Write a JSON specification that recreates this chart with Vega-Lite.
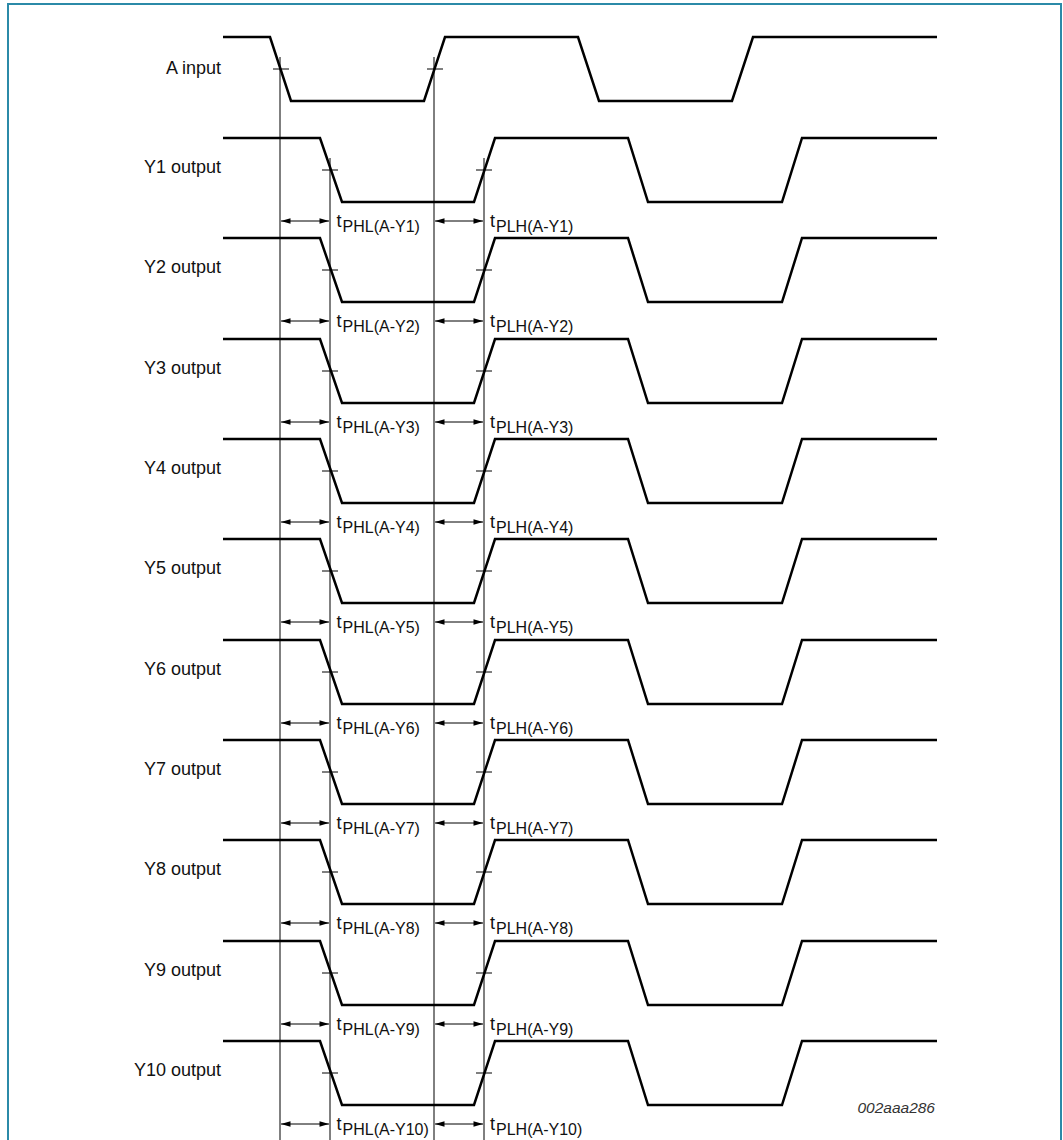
{
  "$schema": "https://vega.github.io/schema/vega-lite/v6.json",
  "width": 1063,
  "height": 1140,
  "padding": 0,
  "autosize": "none",
  "background": "white",
  "config": {"view": {"stroke": null}},
  "datasets": {
    "frame": [{"x": 8, "x2": 1061, "y": 4, "y2": 1150}],
    "guides": [
      {"x": 280, "y": 57, "y2": 1140},
      {"x": 434, "y": 57, "y2": 1140},
      {"x": 330, "y": 158, "y2": 1140},
      {"x": 484, "y": 158, "y2": 1140}
    ],
    "cross": [
      {"x": 273, "x2": 289, "y": 69}, {"x": 427, "x2": 443, "y": 69},
      {"x": 322, "x2": 338, "y": 170}, {"x": 476, "x2": 492, "y": 170},
      {"x": 322, "x2": 338, "y": 270}, {"x": 476, "x2": 492, "y": 270},
      {"x": 322, "x2": 338, "y": 371}, {"x": 476, "x2": 492, "y": 371},
      {"x": 322, "x2": 338, "y": 471}, {"x": 476, "x2": 492, "y": 471},
      {"x": 322, "x2": 338, "y": 571}, {"x": 476, "x2": 492, "y": 571},
      {"x": 322, "x2": 338, "y": 672}, {"x": 476, "x2": 492, "y": 672},
      {"x": 322, "x2": 338, "y": 772}, {"x": 476, "x2": 492, "y": 772},
      {"x": 322, "x2": 338, "y": 872}, {"x": 476, "x2": 492, "y": 872},
      {"x": 322, "x2": 338, "y": 973}, {"x": 476, "x2": 492, "y": 973},
      {"x": 322, "x2": 338, "y": 1073}, {"x": 476, "x2": 492, "y": 1073}
    ],
    "arrows": [
      {"x": 281, "x2": 329, "y": 221}, {"x": 435, "x2": 483, "y": 221},
      {"x": 281, "x2": 329, "y": 321}, {"x": 435, "x2": 483, "y": 321},
      {"x": 281, "x2": 329, "y": 422}, {"x": 435, "x2": 483, "y": 422},
      {"x": 281, "x2": 329, "y": 522}, {"x": 435, "x2": 483, "y": 522},
      {"x": 281, "x2": 329, "y": 622}, {"x": 435, "x2": 483, "y": 622},
      {"x": 281, "x2": 329, "y": 723}, {"x": 435, "x2": 483, "y": 723},
      {"x": 281, "x2": 329, "y": 823}, {"x": 435, "x2": 483, "y": 823},
      {"x": 281, "x2": 329, "y": 923}, {"x": 435, "x2": 483, "y": 923},
      {"x": 281, "x2": 329, "y": 1024}, {"x": 435, "x2": 483, "y": 1024},
      {"x": 281, "x2": 329, "y": 1124}, {"x": 435, "x2": 483, "y": 1124}
    ],
    "tlab": [
      {"x": 336.5, "y": 227, "sub": "PHL(A-Y1)"}, {"x": 490, "y": 227, "sub": "PLH(A-Y1)"},
      {"x": 336.5, "y": 327, "sub": "PHL(A-Y2)"}, {"x": 490, "y": 327, "sub": "PLH(A-Y2)"},
      {"x": 336.5, "y": 428, "sub": "PHL(A-Y3)"}, {"x": 490, "y": 428, "sub": "PLH(A-Y3)"},
      {"x": 336.5, "y": 528, "sub": "PHL(A-Y4)"}, {"x": 490, "y": 528, "sub": "PLH(A-Y4)"},
      {"x": 336.5, "y": 628, "sub": "PHL(A-Y5)"}, {"x": 490, "y": 628, "sub": "PLH(A-Y5)"},
      {"x": 336.5, "y": 729, "sub": "PHL(A-Y6)"}, {"x": 490, "y": 729, "sub": "PLH(A-Y6)"},
      {"x": 336.5, "y": 829, "sub": "PHL(A-Y7)"}, {"x": 490, "y": 829, "sub": "PLH(A-Y7)"},
      {"x": 336.5, "y": 929, "sub": "PHL(A-Y8)"}, {"x": 490, "y": 929, "sub": "PLH(A-Y8)"},
      {"x": 336.5, "y": 1030, "sub": "PHL(A-Y9)"}, {"x": 490, "y": 1030, "sub": "PLH(A-Y9)"},
      {"x": 336.5, "y": 1130, "sub": "PHL(A-Y10)"}, {"x": 490, "y": 1130, "sub": "PLH(A-Y10)"}
    ],
    "labels": [
      {"label": "A input", "x": 221, "y": 69},
      {"label": "Y1 output", "x": 221, "y": 168},
      {"label": "Y2 output", "x": 221, "y": 268},
      {"label": "Y3 output", "x": 221, "y": 369},
      {"label": "Y4 output", "x": 221, "y": 469},
      {"label": "Y5 output", "x": 221, "y": 569},
      {"label": "Y6 output", "x": 221, "y": 670},
      {"label": "Y7 output", "x": 221, "y": 770},
      {"label": "Y8 output", "x": 221, "y": 870},
      {"label": "Y9 output", "x": 221, "y": 971},
      {"label": "Y10 output", "x": 221, "y": 1071}
    ],
    "code": [{"label": "002aaa286", "x": 935, "y": 1113}],
    "wave": [
      {"s": "A", "i": 0, "x": 223, "y": 37}, {"s": "A", "i": 1, "x": 270, "y": 37}, {"s": "A", "i": 2, "x": 291, "y": 101}, {"s": "A", "i": 3, "x": 424, "y": 101}, {"s": "A", "i": 4, "x": 445, "y": 37}, {"s": "A", "i": 5, "x": 578, "y": 37}, {"s": "A", "i": 6, "x": 599, "y": 101}, {"s": "A", "i": 7, "x": 732, "y": 101}, {"s": "A", "i": 8, "x": 753, "y": 37}, {"s": "A", "i": 9, "x": 937, "y": 37},
      {"s": "Y1", "i": 0, "x": 223, "y": 138}, {"s": "Y1", "i": 1, "x": 320, "y": 138}, {"s": "Y1", "i": 2, "x": 342, "y": 202}, {"s": "Y1", "i": 3, "x": 474, "y": 202}, {"s": "Y1", "i": 4, "x": 495, "y": 138}, {"s": "Y1", "i": 5, "x": 628, "y": 138}, {"s": "Y1", "i": 6, "x": 648, "y": 202}, {"s": "Y1", "i": 7, "x": 782, "y": 202}, {"s": "Y1", "i": 8, "x": 802, "y": 138}, {"s": "Y1", "i": 9, "x": 937, "y": 138},
      {"s": "Y2", "i": 0, "x": 223, "y": 238}, {"s": "Y2", "i": 1, "x": 320, "y": 238}, {"s": "Y2", "i": 2, "x": 342, "y": 302}, {"s": "Y2", "i": 3, "x": 474, "y": 302}, {"s": "Y2", "i": 4, "x": 495, "y": 238}, {"s": "Y2", "i": 5, "x": 628, "y": 238}, {"s": "Y2", "i": 6, "x": 648, "y": 302}, {"s": "Y2", "i": 7, "x": 782, "y": 302}, {"s": "Y2", "i": 8, "x": 802, "y": 238}, {"s": "Y2", "i": 9, "x": 937, "y": 238},
      {"s": "Y3", "i": 0, "x": 223, "y": 339}, {"s": "Y3", "i": 1, "x": 320, "y": 339}, {"s": "Y3", "i": 2, "x": 342, "y": 403}, {"s": "Y3", "i": 3, "x": 474, "y": 403}, {"s": "Y3", "i": 4, "x": 495, "y": 339}, {"s": "Y3", "i": 5, "x": 628, "y": 339}, {"s": "Y3", "i": 6, "x": 648, "y": 403}, {"s": "Y3", "i": 7, "x": 782, "y": 403}, {"s": "Y3", "i": 8, "x": 802, "y": 339}, {"s": "Y3", "i": 9, "x": 937, "y": 339},
      {"s": "Y4", "i": 0, "x": 223, "y": 439}, {"s": "Y4", "i": 1, "x": 320, "y": 439}, {"s": "Y4", "i": 2, "x": 342, "y": 503}, {"s": "Y4", "i": 3, "x": 474, "y": 503}, {"s": "Y4", "i": 4, "x": 495, "y": 439}, {"s": "Y4", "i": 5, "x": 628, "y": 439}, {"s": "Y4", "i": 6, "x": 648, "y": 503}, {"s": "Y4", "i": 7, "x": 782, "y": 503}, {"s": "Y4", "i": 8, "x": 802, "y": 439}, {"s": "Y4", "i": 9, "x": 937, "y": 439},
      {"s": "Y5", "i": 0, "x": 223, "y": 539}, {"s": "Y5", "i": 1, "x": 320, "y": 539}, {"s": "Y5", "i": 2, "x": 342, "y": 603}, {"s": "Y5", "i": 3, "x": 474, "y": 603}, {"s": "Y5", "i": 4, "x": 495, "y": 539}, {"s": "Y5", "i": 5, "x": 628, "y": 539}, {"s": "Y5", "i": 6, "x": 648, "y": 603}, {"s": "Y5", "i": 7, "x": 782, "y": 603}, {"s": "Y5", "i": 8, "x": 802, "y": 539}, {"s": "Y5", "i": 9, "x": 937, "y": 539},
      {"s": "Y6", "i": 0, "x": 223, "y": 640}, {"s": "Y6", "i": 1, "x": 320, "y": 640}, {"s": "Y6", "i": 2, "x": 342, "y": 704}, {"s": "Y6", "i": 3, "x": 474, "y": 704}, {"s": "Y6", "i": 4, "x": 495, "y": 640}, {"s": "Y6", "i": 5, "x": 628, "y": 640}, {"s": "Y6", "i": 6, "x": 648, "y": 704}, {"s": "Y6", "i": 7, "x": 782, "y": 704}, {"s": "Y6", "i": 8, "x": 802, "y": 640}, {"s": "Y6", "i": 9, "x": 937, "y": 640},
      {"s": "Y7", "i": 0, "x": 223, "y": 740}, {"s": "Y7", "i": 1, "x": 320, "y": 740}, {"s": "Y7", "i": 2, "x": 342, "y": 804}, {"s": "Y7", "i": 3, "x": 474, "y": 804}, {"s": "Y7", "i": 4, "x": 495, "y": 740}, {"s": "Y7", "i": 5, "x": 628, "y": 740}, {"s": "Y7", "i": 6, "x": 648, "y": 804}, {"s": "Y7", "i": 7, "x": 782, "y": 804}, {"s": "Y7", "i": 8, "x": 802, "y": 740}, {"s": "Y7", "i": 9, "x": 937, "y": 740},
      {"s": "Y8", "i": 0, "x": 223, "y": 840}, {"s": "Y8", "i": 1, "x": 320, "y": 840}, {"s": "Y8", "i": 2, "x": 342, "y": 904}, {"s": "Y8", "i": 3, "x": 474, "y": 904}, {"s": "Y8", "i": 4, "x": 495, "y": 840}, {"s": "Y8", "i": 5, "x": 628, "y": 840}, {"s": "Y8", "i": 6, "x": 648, "y": 904}, {"s": "Y8", "i": 7, "x": 782, "y": 904}, {"s": "Y8", "i": 8, "x": 802, "y": 840}, {"s": "Y8", "i": 9, "x": 937, "y": 840},
      {"s": "Y9", "i": 0, "x": 223, "y": 941}, {"s": "Y9", "i": 1, "x": 320, "y": 941}, {"s": "Y9", "i": 2, "x": 342, "y": 1005}, {"s": "Y9", "i": 3, "x": 474, "y": 1005}, {"s": "Y9", "i": 4, "x": 495, "y": 941}, {"s": "Y9", "i": 5, "x": 628, "y": 941}, {"s": "Y9", "i": 6, "x": 648, "y": 1005}, {"s": "Y9", "i": 7, "x": 782, "y": 1005}, {"s": "Y9", "i": 8, "x": 802, "y": 941}, {"s": "Y9", "i": 9, "x": 937, "y": 941},
      {"s": "Y10", "i": 0, "x": 223, "y": 1041}, {"s": "Y10", "i": 1, "x": 320, "y": 1041}, {"s": "Y10", "i": 2, "x": 342, "y": 1105}, {"s": "Y10", "i": 3, "x": 474, "y": 1105}, {"s": "Y10", "i": 4, "x": 495, "y": 1041}, {"s": "Y10", "i": 5, "x": 628, "y": 1041}, {"s": "Y10", "i": 6, "x": 648, "y": 1105}, {"s": "Y10", "i": 7, "x": 782, "y": 1105}, {"s": "Y10", "i": 8, "x": 802, "y": 1041}, {"s": "Y10", "i": 9, "x": 937, "y": 1041}
    ]
  },
  "encoding": {
    "x": {"field": "x", "type": "quantitative", "axis": null, "scale": {"domain": [0, 1063], "nice": false, "zero": false}},
    "y": {"field": "y", "type": "quantitative", "axis": null, "scale": {"domain": [0, 1140], "nice": false, "zero": false, "reverse": true}}
  },
  "layer": [
    {
      "data": {"name": "frame"},
      "mark": {"type": "rect", "fill": null, "fillOpacity": 0, "stroke": "#2b8aa8", "strokeWidth": 2, "clip": true},
      "encoding": {"x2": {"field": "x2"}, "y2": {"field": "y2"}}
    },
    {
      "data": {"name": "guides"},
      "mark": {"type": "rule", "color": "#000", "strokeWidth": 1},
      "encoding": {"y2": {"field": "y2"}}
    },
    {
      "data": {"name": "cross"},
      "mark": {"type": "rule", "color": "#000", "strokeWidth": 1},
      "encoding": {"x2": {"field": "x2"}}
    },
    {
      "data": {"name": "arrows"},
      "mark": {"type": "rule", "color": "#000", "strokeWidth": 1},
      "encoding": {"x2": {"field": "x2"}}
    },
    {
      "data": {"name": "arrows"},
      "mark": {"type": "point", "filled": true, "color": "#000", "opacity": 1, "size": 90, "shape": "M0,0L2,-0.6L2,0.6Z"},
      "encoding": {}
    },
    {
      "data": {"name": "arrows"},
      "mark": {"type": "point", "filled": true, "color": "#000", "opacity": 1, "size": 90, "shape": "M0,0L-2,-0.6L-2,0.6Z"},
      "encoding": {"x": {"field": "x2", "type": "quantitative"}}
    },
    {
      "data": {"name": "wave"},
      "mark": {"type": "line", "color": "#000", "strokeWidth": 2.5, "strokeJoin": "miter", "strokeCap": "butt"},
      "encoding": {"detail": {"field": "s"}, "order": {"field": "i", "type": "quantitative"}}
    },
    {
      "data": {"name": "labels"},
      "mark": {"type": "text", "align": "right", "baseline": "middle", "font": "Liberation Sans", "fontSize": 18, "color": "#111"},
      "encoding": {"text": {"field": "label"}}
    },
    {
      "data": {"name": "tlab"},
      "mark": {"type": "text", "align": "left", "baseline": "alphabetic", "font": "Liberation Sans", "fontSize": 18, "color": "#111", "text": "t"},
      "encoding": {}
    },
    {
      "data": {"name": "tlab"},
      "mark": {"type": "text", "align": "left", "baseline": "alphabetic", "font": "Liberation Sans", "fontSize": 16, "color": "#111", "dx": 6, "dy": 5},
      "encoding": {"text": {"field": "sub"}}
    },
    {
      "data": {"name": "code"},
      "mark": {"type": "text", "align": "right", "baseline": "alphabetic", "font": "Liberation Sans", "fontSize": 15.5, "fontStyle": "italic", "color": "#333"},
      "encoding": {"text": {"field": "label"}}
    }
  ]
}
